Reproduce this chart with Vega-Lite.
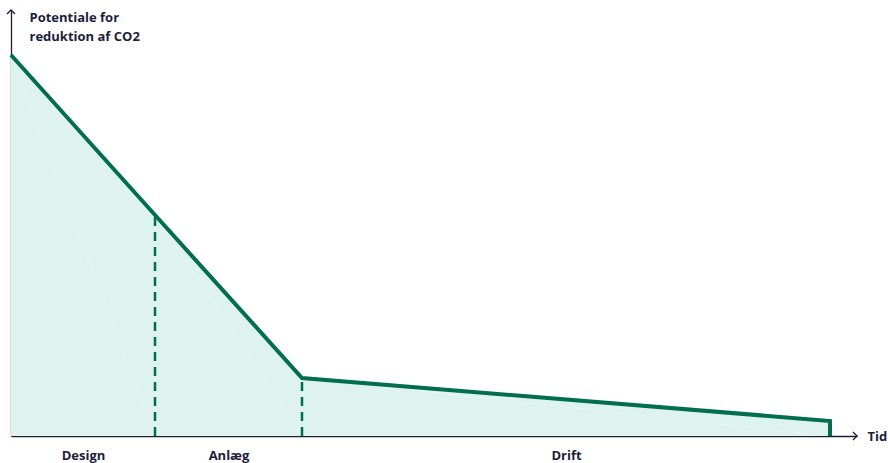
{
  "$schema": "https://vega.github.io/schema/vega-lite/v6.json",
  "width": 846,
  "height": 426,
  "autosize": "none",
  "padding": {"left": 11, "top": 10, "right": 31, "bottom": 27},
  "background": "white",
  "config": {"view": {"stroke": null}, "font": "Open Sans"},
  "datasets": {
    "curve": [
      {"t": 0, "v": 381, "ord": 1},
      {"t": 144, "v": 221, "ord": 2},
      {"t": 291, "v": 58, "ord": 3},
      {"t": 819, "v": 15, "ord": 4},
      {"t": 819, "v": 0, "ord": 5}
    ],
    "phases": [
      {"t": 144, "v": 221},
      {"t": 291, "v": 58}
    ],
    "xend": [{"t": 846, "v": 0}],
    "yend": [{"t": 0, "v": 426}]
  },
  "encoding": {
    "x": {"field": "t", "type": "quantitative", "scale": {"domain": [0, 846], "nice": false, "zero": false},
      "axis": {
        "domain": true, "domainColor": "#1d1d3b", "domainWidth": 1.3,
        "ticks": false, "grid": false,
        "values": [72, 217.5, 555],
        "labelExpr": "datum.value == 72 ? 'Design' : datum.value == 217.5 ? 'Anlæg' : 'Drift'",
        "labelFont": "Open Sans", "labelFontSize": 13, "labelFontWeight": "bold", "labelColor": "#1d1d3b",
        "labelPadding": 13,
        "title": "Tid", "titleX": 856, "titleY": 0, "titleAlign": "left", "titleBaseline": "middle",
        "titleAngle": 0, "titleFont": "Open Sans", "titleFontSize": 13, "titleFontWeight": "bold", "titleColor": "#1d1d3b"
      }
    },
    "y": {"field": "v", "type": "quantitative", "scale": {"domain": [0, 426], "nice": false},
      "axis": {
        "domain": true, "domainColor": "#1d1d3b", "domainWidth": 1.3,
        "ticks": false, "labels": false, "grid": false,
        "title": ["Potentiale for", "reduktion af CO2"],
        "titleAngle": 0, "titleAlign": "left", "titleBaseline": "top",
        "titleX": 18, "titleY": 1, "titleLineHeight": 19,
        "titleFont": "Open Sans", "titleFontSize": 13, "titleFontWeight": "bold", "titleColor": "#1d1d3b"
      }
    }
  },
  "layer": [
    {
      "data": {"name": "curve"},
      "mark": {"type": "area", "color": "#dff3ee", "opacity": 1},
      "encoding": {"order": {"field": "ord"}}
    },
    {
      "data": {"name": "phases"},
      "mark": {"type": "rule", "color": "#006e4f", "strokeWidth": 2.5, "strokeDash": [9, 6]},
      "encoding": {"y": {"datum": 0}, "y2": {"field": "v"}}
    },
    {
      "data": {"name": "curve"},
      "mark": {"type": "line", "color": "#006e4f", "strokeWidth": 4, "strokeJoin": "miter", "strokeCap": "butt"},
      "encoding": {"order": {"field": "ord"}}
    },
    {
      "data": {"name": "xend"},
      "mark": {"type": "point", "shape": "M -1 -1 L 0 0 L -1 1", "filled": false, "stroke": "#1d1d3b", "strokeWidth": 1.3, "size": 64, "opacity": 1},
      "encoding": {}
    },
    {
      "data": {"name": "yend"},
      "mark": {"type": "point", "shape": "M -1 1 L 0 0 L 1 1", "filled": false, "stroke": "#1d1d3b", "strokeWidth": 1.3, "size": 64, "opacity": 1},
      "encoding": {}
    }
  ]
}
